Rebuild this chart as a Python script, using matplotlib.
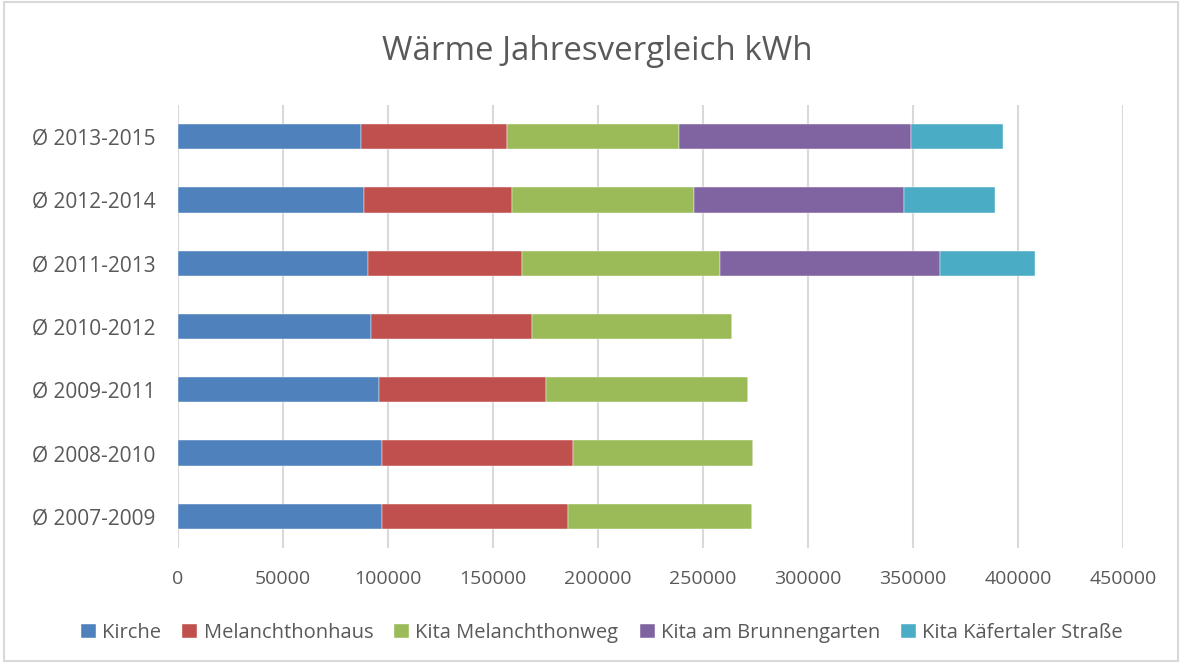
import matplotlib.pyplot as plt
import numpy as np

categories = ['Ø 2007-2009', 'Ø 2008-2010', 'Ø 2009-2011', 'Ø 2010-2012',
              'Ø 2011-2013', 'Ø 2012-2014', 'Ø 2013-2015']
kirche = [97300, 97000, 95700, 91750, 90300, 88700, 87300]
melanchthonhaus = [88400, 91100, 79500, 76950, 73500, 70300, 69500]
kita_weg = [87500, 85700, 96100, 94900, 94400, 86700, 81900]
kita_brunnen = [0, 0, 0, 0, 104800, 100200, 110500]
kita_kaefertal = [0, 0, 0, 0, 45200, 43100, 43800]

series = [
    ('Kirche', kirche, '#4F81BD'),
    ('Melanchthonhaus', melanchthonhaus, '#C0504D'),
    ('Kita Melanchthonweg', kita_weg, '#9BBB59'),
    ('Kita am Brunnengarten', kita_brunnen, '#8064A2'),
    ('Kita Käfertaler Straße', kita_kaefertal, '#4BACC6'),
]

plt.rcParams['font.family'] = ['Open Sans', 'DejaVu Sans']
text_color = '#595959'

fig = plt.figure(figsize=(11.82, 6.63), dpi=100)
ax = fig.add_axes([178 / 1182, 1 - 548 / 663, (1123 - 178) / 1182, 443 / 663])

y = np.arange(len(categories))
left = np.zeros(len(categories))
for name, vals, color in series:
    vals = np.array(vals, dtype=float)
    ax.barh(y, vals, left=left, height=0.4, color=color, label=name,
            edgecolor='white', linewidth=0.3, zorder=3)
    left += vals

ax.set_xlim(0, 450000)
ax.set_ylim(-0.5, len(categories) - 0.5)
ax.set_xticks(range(0, 450001, 50000))
ax.set_yticks(y)
ax.set_yticklabels(categories)
ax.tick_params(length=0, labelsize=14, colors=text_color)
ax.tick_params(axis='y', labelsize=15, pad=16)
ax.tick_params(axis='x', pad=16)
ax.grid(axis='x', color='#D9D9D9', linewidth=1.5, zorder=0)
for s in ax.spines.values():
    s.set_visible(False)

fig.text(597 / 1182, 1 - 51 / 663, 'Wärme Jahresvergleich kWh', ha='center', va='center',
         fontsize=23.8, color=text_color)

fig.legend(loc='center', bbox_to_anchor=(602 / 1182, 1 - 633 / 663), ncol=5, frameon=False,
           fontsize=14.5, labelcolor=text_color, handlelength=0.75, handleheight=0.75,
           handletextpad=0.3, columnspacing=1.05)

border = plt.Rectangle((0.003, 0.003), 0.994, 0.994, transform=fig.transFigure,
                       fill=False, edgecolor='#D9D9D9', linewidth=1.5)
fig.patches.append(border)

fig.savefig('out.png', dpi=100, facecolor='white')
